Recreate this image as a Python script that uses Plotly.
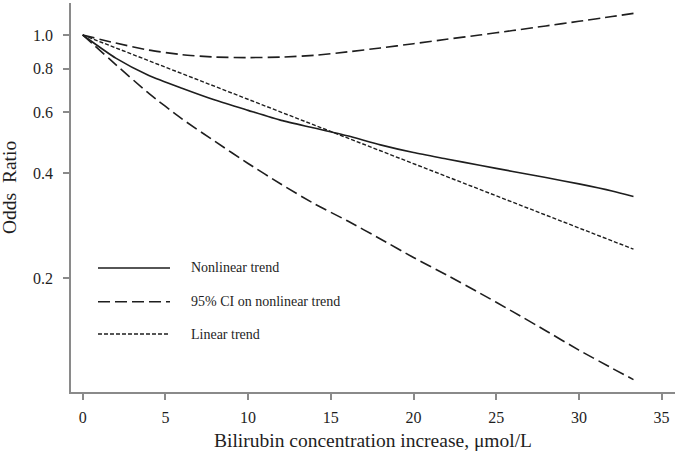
import plotly.graph_objects as go

# ---- data ----
x_nl = [0, 2, 4, 6, 8, 10, 12, 14, 16, 18, 20, 22, 24, 26, 28, 30, 32, 33.3]
or_nonlinear = [1.0, 0.858, 0.765, 0.703, 0.65, 0.607, 0.568, 0.54, 0.513, 0.483,
                0.459, 0.44, 0.422, 0.405, 0.389, 0.373, 0.356, 0.343]
ci_upper = [1.0, 0.948, 0.905, 0.878, 0.864, 0.861, 0.864, 0.874, 0.894, 0.918,
            0.944, 0.972, 1.0, 1.03, 1.062, 1.095, 1.13, 1.154]
ci_lower = [1.0, 0.822, 0.679, 0.574, 0.494, 0.427, 0.372, 0.327, 0.292, 0.259,
            0.229, 0.204, 0.181, 0.16, 0.141, 0.124, 0.11, 0.102]
x_lin = [0, 10, 20, 33.3]
or_linear = [1.0, 0.653, 0.427, 0.242]

x_ticks = [0, 5, 10, 15, 20, 25, 30, 35]
y_ticks = [0.2, 0.4, 0.6, 0.8, 1.0]
y_tick_labels = ["0.2", "0.4", "0.6", "0.8", "1.0"]

legend_labels = ["Nonlinear trend", "95% CI on nonlinear trend", "Linear trend"]

# ---- styles ----
INK = "#1e1e1e"
AXIS = "#8a8a8a"
FONT = "Liberation Serif, Times New Roman, serif"
DASH_CI = "12px,5px"
DASH_LIN = "4px,2px"

fig = go.Figure()
fig.add_trace(go.Scatter(x=x_nl, y=ci_upper, mode="lines",
                         line=dict(color=INK, width=1.6, dash=DASH_CI,
                                   shape="spline", smoothing=0.6)))
fig.add_trace(go.Scatter(x=x_nl, y=ci_lower, mode="lines",
                         line=dict(color=INK, width=1.6, dash=DASH_CI,
                                   shape="spline", smoothing=0.6)))
fig.add_trace(go.Scatter(x=x_lin, y=or_linear, mode="lines",
                         line=dict(color=INK, width=1.4, dash=DASH_LIN)))
fig.add_trace(go.Scatter(x=x_nl, y=or_nonlinear, mode="lines",
                         line=dict(color=INK, width=1.6, shape="spline", smoothing=0.6)))

# ---- manual legend (inside plot) ----
leg_x0, leg_x1, leg_tx = 0.0447, 0.1639, 0.1954
leg_y = [0.3188, 0.2321, 0.1491]
leg_dash = ["solid", DASH_CI, DASH_LIN]
for lab, yy, dsh in zip(legend_labels, leg_y, leg_dash):
    fig.add_shape(type="line", xref="paper", yref="paper",
                  x0=leg_x0, x1=leg_x1, y0=yy, y1=yy,
                  line=dict(color=INK, width=1.6, dash=dsh))
    fig.add_annotation(xref="paper", yref="paper", x=leg_tx, y=yy,
                       text=lab, showarrow=False, xanchor="left", yanchor="middle",
                       font=dict(family=FONT, size=14, color=INK))

# y-axis title (placed slightly above centre, as in the reference)
fig.add_annotation(xref="paper", yref="paper", x=-0.101, y=0.527,
                   text="Odds\u00a0\u00a0Ratio", textangle=-90, showarrow=False,
                   xanchor="center", yanchor="middle",
                   font=dict(family=FONT, size=19.5, color=INK))

fig.update_layout(
    width=675, height=457,
    margin=dict(l=71, r=0, t=3, b=65, autoexpand=False),
    paper_bgcolor="white", plot_bgcolor="white",
    showlegend=False,
    font=dict(family=FONT, color=INK),
)
fig.update_xaxes(
    range=[-0.707, 35.81], tickvals=x_ticks, ticks="outside", ticklen=6,
    tickcolor=AXIS, tickwidth=1.5, showline=True, linecolor=AXIS, linewidth=1.5,
    showgrid=False, zeroline=False, automargin=False,
    tickfont=dict(family=FONT, size=16, color=INK), ticklabelstandoff=4,
    title=dict(text="Bilirubin concentration increase, μmol/L",
               font=dict(family=FONT, size=19.5, color=INK), standoff=8),
)
fig.update_yaxes(
    type="log", range=[-1.0271, 0.0921], tickvals=y_ticks, ticktext=y_tick_labels,
    ticks="outside", ticklen=6, tickcolor=AXIS, tickwidth=1.5,
    showline=True, linecolor=AXIS, linewidth=1.5, showgrid=False, zeroline=False,
    automargin=False, ticklabelstandoff=7,
    tickfont=dict(family=FONT, size=16, color=INK),
)

fig.write_html("out.html", config={"displayModeBar": False},
               post_script="document.body.style.margin='0';document.body.style.overflow='hidden';")
